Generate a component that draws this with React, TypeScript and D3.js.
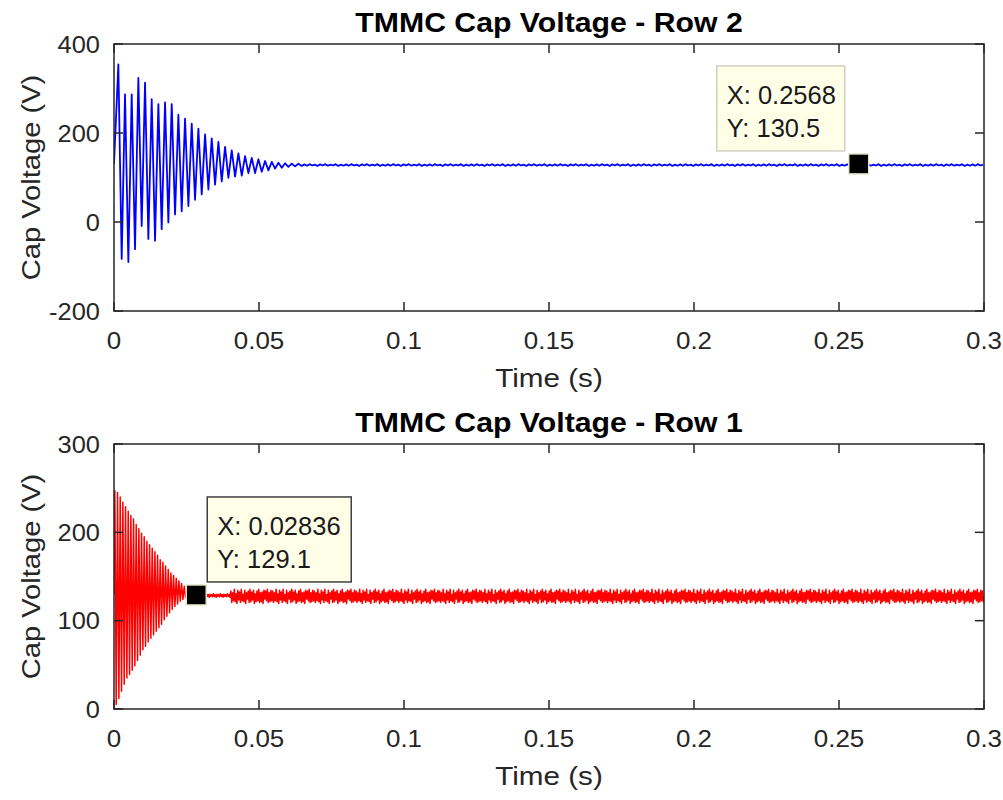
import React from 'react';
import * as d3 from 'd3';

// ---------- data ----------
const xTicks = [0, 0.05, 0.1, 0.15, 0.2, 0.25, 0.3];
const xTickLabels = ['0', '0.05', '0.1', '0.15', '0.2', '0.25', '0.3'];
const row2YTicks = [-200, 0, 200, 400];
const row1YTicks = [0, 100, 200, 300];

// Row 2 (top): damped oscillation, one peak/trough per cycle
const row2Initial = 130;
const row2Start = 0.0015;
const row2Period = 0.0023;
const row2Peaks = [354, 287, 287, 324, 313, 276, 265, 269, 265, 241, 232, 221, 210, 197, 188, 180, 169, 161, 154, 148, 144, 141, 137, 135, 133, 132, 131, 131];
const row2Troughs = [-83, -90, -61, -9, -38, -42, -16, -1, 17, 24, 36, 50, 62, 73, 84, 91, 99, 102, 104, 110, 110, 113, 116, 120, 122, 124, 125, 126];
const row2Level = 128;
const row2RippleStep = 0.0009;
const row2Ripple = [1.5, -1.5, 2, -1, 1, -2, 1.5, -1, 2, -1.5, 1, -1, 2, -2, 1, -1.5];

// Row 1 (bottom): fast decaying oscillation
const row1Initial = 130;
const row1Start = 0.0003;
const row1Period = 0.00092;
const row1Peaks = [247, 245, 240, 234, 229, 224, 219, 215, 209, 204, 199, 195, 190, 186, 182, 178, 174, 169, 166, 162, 158, 154, 151, 148, 145, 142, 139, 135];
const row1Troughs = [5, 12, 20, 28, 35, 39, 44, 49, 55, 61, 67, 71, 76, 80, 84, 88, 92, 96, 101, 105, 109, 113, 116, 119, 122, 124, 126, 127];
const row1Level = 127.5;
const row1QuietEnd = 0.04;
const row1Quiet = [1.5, -1, 1, -1.5, 2, -1, 1, -2];
const row1NoiseStep = 0.0003;
const row1Noise = [6, -7, 4, -5, 8, -6, 3, -8, 7, -4, 5, -7, 8, -5, 2, -6, 7, -8, 4, -3, 6, -7, 8, -6, 5, -4, 7, -8, 3, -6, 6, -5, 8, -7, 4, -6, 5, -8, 7, -3, 6, -5, 8, -7, 4, -6, 7, -5];

const row2Tip = { x: 0.2568, y: 130.5 };
const row1Tip = { x: 0.02836, y: 129.1 };

// ---------- series builders ----------
type P = [number, number];
function transient(initial: number, start: number, period: number, peaks: number[], troughs: number[]): P[] {
  const pts: P[] = [[0, initial]];
  peaks.forEach((p, i) => {
    pts.push([start + i * period, p]);
    pts.push([start + (i + 0.5) * period, troughs[i]]);
  });
  return pts;
}
function appendPattern(pts: P[], level: number, step: number, pattern: number[], tEnd: number) {
  let t = pts[pts.length - 1][0] + step;
  let k = 0;
  while (t <= tEnd + 1e-9) {
    pts.push([t, level + pattern[k % pattern.length]]);
    t += step;
    k++;
  }
}

const row2Series: P[] = transient(row2Initial, row2Start, row2Period, row2Peaks, row2Troughs);
appendPattern(row2Series, row2Level, row2RippleStep, row2Ripple, 0.3);

const row1Series: P[] = transient(row1Initial, row1Start, row1Period, row1Peaks, row1Troughs);
appendPattern(row1Series, row1Level + 1, row1NoiseStep, row1Quiet, row1QuietEnd);
appendPattern(row1Series, row1Level, row1NoiseStep, row1Noise, 0.3);

// ---------- drawing ----------
const FONT = '"Liberation Sans", Arial, Helvetica, sans-serif';
const AX = '#262626';

function SText(props: { x: number; y: number; sx: number; rot?: number; size: number; anchor?: string; weight?: string; fill?: string; children: React.ReactNode }) {
  const { x, y, sx, rot = 0, size, anchor = 'start', weight = 'normal', fill = AX } = props;
  return (
    <text transform={`translate(${x},${y}) rotate(${rot}) scale(${sx},1)`} textAnchor={anchor}
      fontSize={size} fontWeight={weight} fill={fill} fontFamily={FONT}>{props.children}</text>
  );
}

interface PanelProps {
  id: string;
  title: string;
  top: number;
  bottom: number;
  yDomain: [number, number];
  yTicks: number[];
  series: P[];
  color: string;
  width: number;
  tip: { x: number; y: number };
  tipText: [string, string];
  tipPlace: 'left' | 'right';
  tipBorder: string;
}

const LEFT = 114;
const RIGHT = 984;

function Panel(p: PanelProps) {
  const x = d3.scaleLinear().domain([0, 0.3]).range([LEFT, RIGHT]);
  const y = d3.scaleLinear().domain(p.yDomain).range([p.bottom, p.top]);
  const line = d3.line<P>().x(d => x(d[0])).y(d => y(d[1]));
  const mx = x(p.tip.x);
  const my = y(p.tip.y);
  const boxW = p.tipPlace === 'left' ? 128 : 144;
  const boxH = 85;
  const bx = p.tipPlace === 'left' ? mx - 14 - boxW : mx + 11;
  const by = my - 13 - boxH;
  const tickLen = 9;
  const cx = (LEFT + RIGHT) / 2;
  return (
    <g>
      <clipPath id={'clip' + p.id}>
        <rect x={LEFT} y={p.top} width={RIGHT - LEFT} height={p.bottom - p.top} />
      </clipPath>
      <path d={line(p.series) || ''} fill="none" stroke={p.color} strokeWidth={p.width}
        strokeLinejoin="round" clipPath={'url(#clip' + p.id + ')'} />
      <rect x={LEFT} y={p.top} width={RIGHT - LEFT} height={p.bottom - p.top} fill="none" stroke={AX} strokeWidth={1.5} />
      {xTicks.map((t, i) => (
        <g key={'xt' + i}>
          <line x1={x(t)} x2={x(t)} y1={p.bottom} y2={p.bottom - tickLen} stroke={AX} strokeWidth={1.5} />
          <line x1={x(t)} x2={x(t)} y1={p.top} y2={p.top + tickLen} stroke={AX} strokeWidth={1.5} />
          <SText x={x(t)} y={p.bottom + 38} sx={1.08} size={24} anchor="middle">{xTickLabels[i]}</SText>
        </g>
      ))}
      {p.yTicks.map((v, i) => (
        <g key={'yt' + i}>
          <line x1={LEFT} x2={LEFT + tickLen} y1={y(v)} y2={y(v)} stroke={AX} strokeWidth={1.5} />
          <line x1={RIGHT} x2={RIGHT - tickLen} y1={y(v)} y2={y(v)} stroke={AX} strokeWidth={1.5} />
          <SText x={LEFT - 14} y={y(v) + 8.5} sx={1.06} size={24} anchor="end">{String(v)}</SText>
        </g>
      ))}
      <SText x={cx} y={p.bottom + 76} sx={1.14} size={26} anchor="middle">Time (s)</SText>
      <SText x={40} y={(p.top + p.bottom) / 2} rot={-90} sx={1.12} size={26} anchor="middle">Cap Voltage (V)</SText>
      <SText x={cx} y={p.top - 12} sx={1.12} size={27} anchor="middle" weight="bold" fill="#000">{p.title}</SText>
      <rect x={bx} y={by} width={boxW} height={boxH} fill="#ffffe8" stroke={p.tipBorder} strokeWidth={1.5} />
      <SText x={bx + 10} y={by + 38} sx={1.02} size={25} fill="#1a1a1a">{p.tipText[0]}</SText>
      <SText x={bx + 10} y={by + 71} sx={1.02} size={25} fill="#1a1a1a">{p.tipText[1]}</SText>
      <rect x={mx - 10} y={my - 10} width={20} height={20} fill="#000" stroke="#e8e8c8" strokeWidth={1.5} />
    </g>
  );
}

export default function App() {
  return (
    <svg width={1003} height={800} style={{ position: 'absolute', left: 0, top: 0, background: '#fff' }}>
      <rect x={0} y={0} width={1003} height={800} fill="#fff" />
      <Panel id="r2" title="TMMC Cap Voltage - Row 2" top={44} bottom={311} yDomain={[-200, 400]} yTicks={row2YTicks}
        series={row2Series} color="#0000ff" width={1.8} tip={row2Tip} tipText={['X: 0.2568', 'Y: 130.5']} tipPlace="left" tipBorder="#d0d0c0" />
      <Panel id="r1" title="TMMC Cap Voltage - Row 1" top={444} bottom={709} yDomain={[0, 300]} yTicks={row1YTicks}
        series={row1Series} color="#ff0000" width={1.5} tip={row1Tip} tipText={['X: 0.02836', 'Y: 129.1']} tipPlace="right" tipBorder="#404040" />
    </svg>
  );
}
